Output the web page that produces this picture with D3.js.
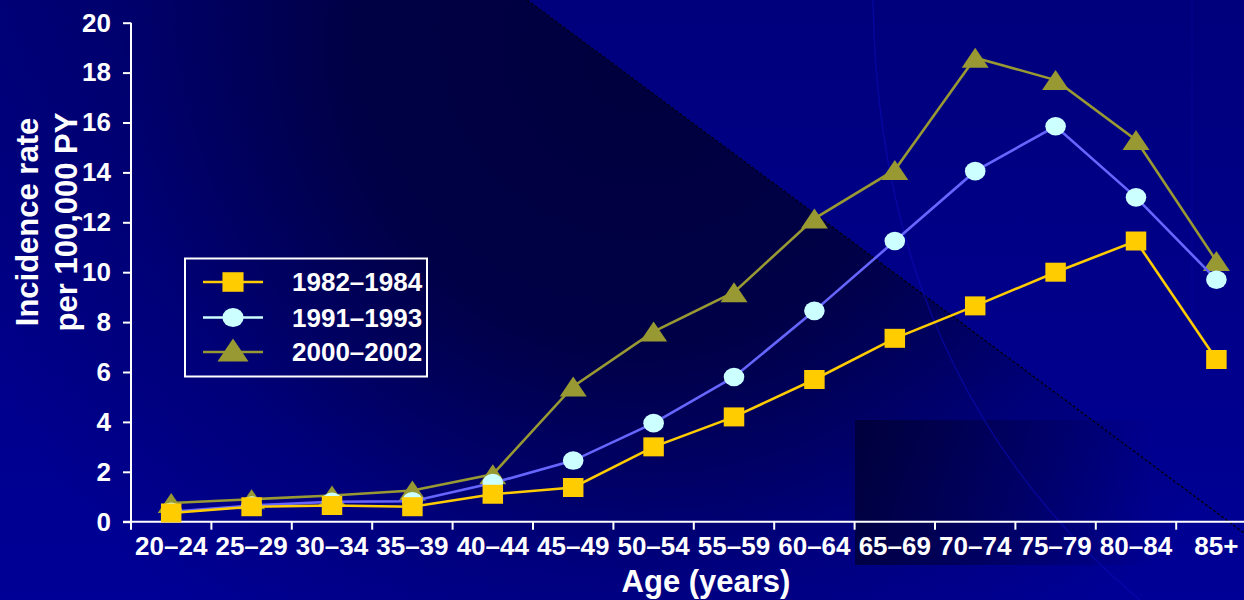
<!DOCTYPE html>
<html>
<head>
<meta charset="utf-8">
<script src="https://cdn.jsdelivr.net/npm/d3@7"></script>
<style>
html, body { margin: 0; padding: 0; background: #000088; overflow: hidden; }
svg { display: block; font-family: "Liberation Sans", Arial, sans-serif; font-weight: bold; }
</style>
</head>
<body>
<svg id="chart" width="1244" height="600"></svg>
<script>
// age groups on the x axis
const ageGroups = ["20–24", "25–29", "30–34", "35–39", "40–44", "45–49", "50–54",
    "55–59", "60–64", "65–69", "70–74", "75–79", "80–84", "85+"];

// incidence rate per 100,000 PY
const rates1982 = [0.35, 0.6, 0.65, 0.6, 1.1, 1.37, 3.0, 4.2, 5.7, 7.35, 8.65, 10.0, 11.25, 6.5];
const rates1991 = [0.4, 0.65, 0.8, 0.82, 1.55, 2.45, 3.95, 5.8, 8.45, 11.25, 14.05, 15.85, 13.0, 9.7];
const rates2000 = [0.75, 0.9, 1.05, 1.25, 1.9, 5.42, 7.62, 9.2, 12.15, 14.1, 18.6, 17.7, 15.3, 10.45];

const seriesNames = ["1982–1984", "1991–1993", "2000–2002"];
const yTicks = [0, 2, 4, 6, 8, 10, 12, 14, 16, 18, 20];

const COLORS = {
    square: "#ffcc00",
    circleFill: "#ccffff",
    circleLine: "#6666ff",
    triangle: "#999933",
    axis: "#ffffff",
};

const W = 1244, H = 600;
const margin = { left: 131, top: 22.7, bottom: 521.7 };
const bandStep = 80.4;

const svg = d3.select("#chart");

// ---- slide background ----
const defs = svg.append("defs");
const bgGrad = defs.append("linearGradient").attr("id", "bg").attr("x1", 0).attr("y1", 0).attr("x2", 0).attr("y2", 1);
bgGrad.append("stop").attr("offset", 0).attr("stop-color", "#00007c");
bgGrad.append("stop").attr("offset", 1).attr("stop-color", "#000096");

const darkGrad = defs.append("radialGradient").attr("id", "dark")
    .attr("gradientUnits", "userSpaceOnUse")
    .attr("cx", 640).attr("cy", 60).attr("r", 720);
darkGrad.append("stop").attr("offset", 0).attr("stop-color", "#00003e").attr("stop-opacity", 1);
darkGrad.append("stop").attr("offset", 0.4).attr("stop-color", "#00003e").attr("stop-opacity", 0.88);
darkGrad.append("stop").attr("offset", 0.72).attr("stop-color", "#00003e").attr("stop-opacity", 0.25);
darkGrad.append("stop").attr("offset", 1).attr("stop-color", "#00003e").attr("stop-opacity", 0);

const boxGrad = defs.append("linearGradient").attr("id", "box").attr("x1", 0).attr("y1", 0).attr("x2", 1).attr("y2", 0);
boxGrad.append("stop").attr("offset", 0).attr("stop-color", "#000030").attr("stop-opacity", 0.75);
boxGrad.append("stop").attr("offset", 1).attr("stop-color", "#000030").attr("stop-opacity", 0);

svg.append("rect").attr("width", W).attr("height", H).attr("fill", "url(#bg)");
svg.append("path")
    .attr("d", "M0,0 L527,0 L1244,533 L1244,600 L0,600 Z")
    .attr("fill", "url(#dark)");
svg.append("line")
    .attr("x1", 527).attr("y1", 0).attr("x2", 1244).attr("y2", 533)
    .attr("stroke", "#000018").attr("stroke-width", 1.5).attr("stroke-dasharray", "3,2");
svg.append("rect").attr("x", 855).attr("y", 420).attr("width", 300).attr("height", 145).attr("fill", "url(#box)");
svg.append("path")
    .attr("d", "M873,0 Q878,380 1140,600")
    .attr("fill", "none").attr("stroke", "#0a0ab4").attr("stroke-opacity", 0.6).attr("stroke-width", 1.5);
svg.append("path")
    .attr("d", "M1192,0 L1192,330")
    .attr("fill", "none").attr("stroke", "#0a0aa8").attr("stroke-opacity", 0.4).attr("stroke-width", 1.2);

// ---- scales ----
const x = d3.scaleBand()
    .domain(ageGroups)
    .range([margin.left, margin.left + bandStep * ageGroups.length])
    .paddingInner(0).paddingOuter(0);
const cx = (d) => x(d) + x.bandwidth() / 2;

const y = d3.scaleLinear().domain([0, 20]).range([margin.bottom, margin.top]);

// ---- axes ----
const yAxis = svg.append("g")
    .attr("transform", `translate(${margin.left},0)`)
    .call(d3.axisLeft(y).tickValues(yTicks).tickSize(8).tickPadding(12).tickFormat(d3.format("d")));
yAxis.select(".domain").remove();
yAxis.selectAll(".tick line").attr("stroke", COLORS.axis).attr("stroke-width", 2);
yAxis.selectAll(".tick text")
    .attr("fill", COLORS.axis)
    .style("font-size", "26px")
    .style("font-family", "'Liberation Sans', Arial, sans-serif")
    .style("font-weight", "bold");

const xAxis = svg.append("g")
    .attr("transform", `translate(0,${margin.bottom})`)
    .call(d3.axisBottom(x).tickSize(0).tickPadding(15));
xAxis.select(".domain").remove();
xAxis.selectAll(".tick text")
    .attr("fill", COLORS.axis)
    .style("font-size", "26px")
    .style("font-family", "'Liberation Sans', Arial, sans-serif")
    .style("font-weight", "bold");

// x tick marks sit on the band boundaries
svg.append("g").selectAll("line")
    .data(ageGroups.slice(1))
    .enter().append("line")
    .attr("x1", (d) => x(d)).attr("x2", (d) => x(d))
    .attr("y1", margin.bottom).attr("y2", margin.bottom + 8)
    .attr("stroke", COLORS.axis).attr("stroke-width", 2);

// axis lines
svg.append("line")
    .attr("x1", margin.left).attr("x2", margin.left)
    .attr("y1", margin.top).attr("y2", margin.bottom + 8)
    .attr("stroke", COLORS.axis).attr("stroke-width", 2);
svg.append("line")
    .attr("x1", margin.left - 8).attr("x2", W)
    .attr("y1", margin.bottom).attr("y2", margin.bottom)
    .attr("stroke", COLORS.axis).attr("stroke-width", 2);

// axis titles
const yTitle = svg.append("text")
    .attr("transform", "translate(38,222) rotate(-90)")
    .attr("text-anchor", "middle")
    .attr("fill", COLORS.axis)
    .style("font-size", "31px");
yTitle.append("tspan").attr("x", 0).attr("dy", 0).text("Incidence rate");
yTitle.append("tspan").attr("x", 0).attr("dy", 39).text("per 100,000 PY");

svg.append("text")
    .attr("x", 706).attr("y", 592)
    .attr("text-anchor", "middle")
    .attr("fill", COLORS.axis)
    .style("font-size", "31px")
    .text("Age (years)");

// ---- markers ----
const squarePath = (w, h) => `M${-w / 2},${-h / 2}h${w}v${h}h${-w}Z`;
const trianglePath = (w, h) => `M0,${-h / 2}L${w / 2},${h / 2}L${-w / 2},${h / 2}Z`;

const line = d3.line().x((d) => cx(d.age)).y((d) => y(d.value));

const series = [
    { name: seriesNames[2], values: rates2000, stroke: COLORS.triangle, legendStroke: COLORS.triangle, fill: COLORS.triangle, shape: "triangle" },
    { name: seriesNames[1], values: rates1991, stroke: COLORS.circleLine, legendStroke: COLORS.circleFill, fill: COLORS.circleFill, shape: "circle" },
    { name: seriesNames[0], values: rates1982, stroke: COLORS.square, legendStroke: COLORS.square, fill: COLORS.square, shape: "square" },
];

const drawMarker = (sel, s, scale) => {
    if (s.shape === "circle") {
        sel.append("ellipse").attr("rx", 10.3 * scale).attr("ry", 9.3 * scale).attr("fill", s.fill);
    } else if (s.shape === "square") {
        sel.append("path").attr("d", squarePath(20.5 * scale, 19 * scale)).attr("fill", s.fill);
    } else {
        sel.append("path").attr("d", trianglePath(27 * scale, 20 * scale)).attr("fill", s.fill);
    }
};

series.forEach((s) => {
    const pts = ageGroups.map((age, i) => ({ age, value: s.values[i] }));
    const g = svg.append("g");
    g.append("path")
        .datum(pts)
        .attr("d", line)
        .attr("fill", "none")
        .attr("stroke", s.stroke)
        .attr("stroke-width", 2.6);
    g.selectAll("g.mark")
        .data(pts)
        .enter().append("g")
        .attr("class", "mark")
        .attr("transform", (d) => `translate(${cx(d.age)},${y(d.value)})`)
        .each(function () { drawMarker(d3.select(this), s, 1); });
});

// ---- legend ----
const legend = svg.append("g");
legend.append("rect")
    .attr("x", 185).attr("y", 258.5).attr("width", 242).attr("height", 118)
    .attr("fill", "none").attr("stroke", COLORS.axis).attr("stroke-width", 2);

const legendRows = [series[2], series[1], series[0]];
const legendY = [282, 317.5, 352];
legendRows.forEach((s, i) => {
    const row = legend.append("g").attr("transform", `translate(0,${legendY[i]})`);
    row.append("line")
        .attr("x1", 203).attr("x2", 263).attr("y1", 0).attr("y2", 0)
        .attr("stroke", s.legendStroke).attr("stroke-width", 2.6);
    const m = row.append("g").attr("transform", `translate(233,${s.shape === "triangle" ? -2 : 0})`);
    drawMarker(m, s, s.shape === "triangle" ? 1.15 : 1.03);
    row.append("text")
        .attr("x", 292).attr("y", 0)
        .attr("dy", "0.35em")
        .attr("fill", COLORS.axis)
        .style("font-size", "26px")
        .text(s.name);
});
</script>
</body>
</html>
